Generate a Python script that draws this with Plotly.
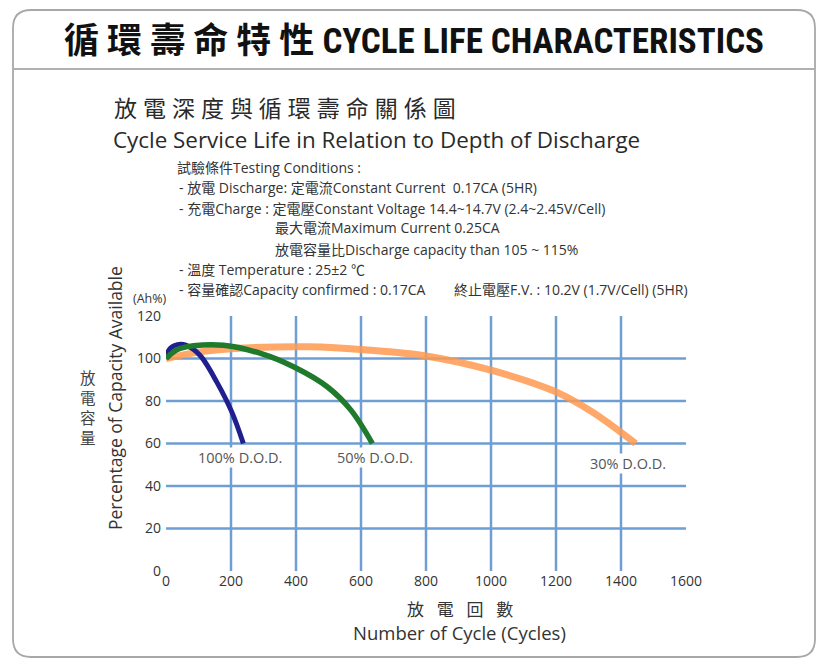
import plotly.graph_objects as go

# ---------------- data ----------------
cycle_ticks = [0, 200, 400, 600, 800, 1000, 1200, 1400, 1600]
cap_ticks = [0, 20, 40, 60, 80, 100, 120]

dod100_x = [0, 12, 45, 80, 110, 156, 202, 238]
dod100_y = [100, 104.6, 106.7, 104.8, 100.5, 89, 75, 60]

dod50_x = [0, 23, 43, 85, 177, 291, 394, 497, 569, 635]
dod50_y = [100, 103.1, 104.7, 106, 106.2, 102.4, 96, 86.6, 75.7, 60]

dod30_x = [0, 100, 240, 440, 620, 800, 1000, 1200, 1310, 1445]
dod30_y = [100, 103, 104.9, 105.5, 104, 101.2, 94.5, 84.3, 75, 60]

labels = ["100% D.O.D.", "50% D.O.D.", "30% D.O.D."]

# ---------------- geometry helpers (pixel -> paper) ----------------
W, H = 827, 667
L, R, T, B = 166, 686, 316, 571


def xp(px):
    return (px - L) / (R - L)


def yp(py):
    return (B - py) / (B - T)


LATIN = "Open Sans, Noto Sans CJK TC, sans-serif"
TXT = "#333333"

fig = go.Figure()

fig.add_trace(go.Scatter(x=dod30_x, y=dod30_y, mode="lines",
                         line=dict(color="#ff9a4f", width=7, shape="spline", smoothing=1.0),
                         opacity=0.85, hoverinfo="skip", showlegend=False))
fig.add_trace(go.Scatter(x=dod100_x, y=dod100_y, mode="lines",
                         line=dict(color="#1f1f8f", width=5, shape="spline", smoothing=1.0),
                         hoverinfo="skip", showlegend=False))
fig.add_trace(go.Scatter(x=dod50_x, y=dod50_y, mode="lines",
                         line=dict(color="#1f7a2b", width=5.5, shape="spline", smoothing=1.0),
                         hoverinfo="skip", showlegend=False))

shapes = []
GRID = "#6e9ed3"
for v in cap_ticks[1:-1]:
    shapes.append(dict(type="line", xref="x", yref="y", x0=0, x1=1600, y0=v, y1=v,
                       line=dict(color=GRID, width=2.5), layer="below"))
for v in cycle_ticks[1:-1]:
    shapes.append(dict(type="line", xref="x", yref="y", x0=v, x1=v, y0=0, y1=120,
                       line=dict(color=GRID, width=2.5), layer="below"))

# rounded frame
fl, fr, ft, fb, rad = 13, 815, 10, 657, 18
path = (f"M {xp(fl + rad)} {yp(ft)} L {xp(fr - rad)} {yp(ft)} "
        f"Q {xp(fr)} {yp(ft)} {xp(fr)} {yp(ft + rad)} "
        f"L {xp(fr)} {yp(fb - rad)} Q {xp(fr)} {yp(fb)} {xp(fr - rad)} {yp(fb)} "
        f"L {xp(fl + rad)} {yp(fb)} Q {xp(fl)} {yp(fb)} {xp(fl)} {yp(fb - rad)} "
        f"L {xp(fl)} {yp(ft + rad)} Q {xp(fl)} {yp(ft)} {xp(fl + rad)} {yp(ft)} Z")
shapes.append(dict(type="path", xref="paper", yref="paper", path=path,
                   line=dict(color="#a8a8a8", width=1.8), layer="below"))
shapes.append(dict(type="line", xref="paper", yref="paper", x0=xp(fl), x1=xp(fr),
                   y0=yp(69), y1=yp(69), line=dict(color="#b0b0b0", width=1.8), layer="below"))

ann = []


def text(px, py, s, size=13, color=TXT, xanchor="left", family=LATIN, **kw):
    ann.append(dict(x=xp(px), y=yp(py), xref="paper", yref="paper", text=s, showarrow=False,
                    xanchor=xanchor, yanchor="middle", font=dict(size=size, color=color, family=family), **kw))


# main title
text(414, 42, "<b>循 環 壽 命 特 性 CYCLE LIFE CHARACTERISTICS</b>", size=35, color="#111111",
     xanchor="center",
     family="Roboto Condensed, Liberation Sans Narrow, Roboto, Noto Sans CJK TC, sans-serif")

# subtitle
text(112, 108, "放 電 深 度 與 循 環 壽 命 關 係 圖", size=23, color="#2a2a2a")
text(111, 139, "Cycle Service Life in Relation to Depth of Discharge", size=22.4, color="#2a2a2a")

# testing conditions
CS = 14
text(175, 167, "試驗條件Testing Conditions :", size=CS)
text(177, 187, "- 放電 Discharge: 定電流Constant Current  0.17CA (5HR)", size=CS)
text(177, 208, "- 充電Charge : 定電壓Constant Voltage 14.4~14.7V (2.4~2.45V/Cell)", size=CS)
text(273, 228, "最大電流Maximum Current 0.25CA", size=CS)
text(273, 249, "放電容量比Discharge capacity than 105 ~ 115%", size=CS)
text(177, 269, "- 溫度 Temperature : 25±2 ℃", size=CS)
text(177, 289, "- 容量確認Capacity confirmed : 0.17CA", size=CS)
text(452, 289, "終止電壓F.V. : 10.2V (1.7V/Cell) (5HR)", size=CS)

# axis titles
text(150, 298, "(Ah%)", size=12.5, xanchor="center")
text(88, 408, "放<br>電<br>容<br>量", size=15.5, color="#444444", xanchor="center")
ann.append(dict(x=xp(115), y=yp(398), xref="paper", yref="paper", text="Percentage of Capacity Available",
                showarrow=False, textangle=-90, xanchor="center", yanchor="middle",
                font=dict(size=17.5, color=TXT, family=LATIN)))
text(460, 609, "放\u2002\u2005電\u2002\u2005回\u2002\u2005數", size=17, color="#333333", xanchor="center")
text(459, 632, "Number of Cycle (Cycles)", size=18.5, xanchor="center")

# D.O.D labels
for (px, py), s in zip([(240, 457), (375, 457), (628, 463)], labels):
    text(px, py, s, size=14.5, color="#555555", xanchor="center", bgcolor="white", borderpad=0)

fig.update_layout(
    width=W, height=H,
    margin=dict(l=L, r=W - R, t=T, b=H - B),
    paper_bgcolor="white", plot_bgcolor="white",
    shapes=shapes, annotations=ann,
    xaxis=dict(range=[0, 1600], tickvals=cycle_ticks, showgrid=False, zeroline=False,
               showline=False, ticks="", tickfont=dict(size=14, color=TXT, family=LATIN), fixedrange=True),
    yaxis=dict(range=[0, 120], tickvals=cap_ticks, showgrid=False, zeroline=False,
               showline=False, ticks="", ticklabelstandoff=4,
               tickfont=dict(size=14, color=TXT, family=LATIN), fixedrange=True),
)

fig.write_html("out.html", config={"displayModeBar": False},
               post_script="document.body.style.margin='0';document.body.style.overflow='hidden';")
